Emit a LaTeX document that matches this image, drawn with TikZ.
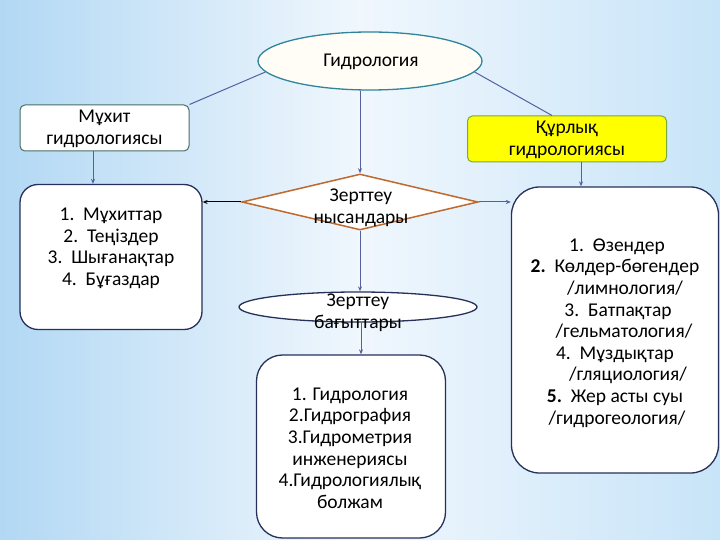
\documentclass[tikz,border=0pt]{standalone}
\usepackage{fontspec}
\setmainfont{Carlito}
\usetikzlibrary{shapes.geometric,arrows.meta}
\definecolor{bgL}{RGB}{178,216,244}
\definecolor{bgM}{RGB}{240,247,253}
\definecolor{bgR}{RGB}{200,228,248}
\definecolor{conn}{RGB}{84,96,160}
\definecolor{tealb}{RGB}{49,133,155}
\definecolor{navy}{RGB}{38,48,90}
\definecolor{muhb}{RGB}{70,110,100}
\definecolor{kurb}{RGB}{120,170,60}
\definecolor{diab}{RGB}{190,105,45}
\definecolor{yel}{RGB}{255,255,0}
\tikzset{
  txt/.style={font=\fontsize{19.5}{21.6}\selectfont, align=center, inner sep=0pt},
  smallbox/.style={draw, rounded corners=5pt, line width=1pt, fill=white},
  bigbox/.style={draw=navy, line width=1.3pt, fill=white},
  conline/.style={draw=conn, line width=1pt},
  arr/.style={conline, -{Stealth[length=5pt,width=4pt]}},
}
\begin{document}
\begin{tikzpicture}[x=1pt,y=-1pt]
\useasboundingbox (0,0) rectangle (720,540);
\shade[left color=bgL, right color=bgR, middle color=bgM] (0,0) rectangle (720,540);

% nodes
\node[ellipse, draw=tealb, line width=1.3pt, fill={rgb,255:red,255;green,253;blue,245},
      minimum width=224pt, minimum height=58pt, inner sep=0pt] (hyd) at (370,61) {};
\node[txt] (hydt) at (371,62) {Гидрология};

\node[smallbox, draw=muhb, minimum width=169pt, minimum height=46pt] (muh) at (104.5,128) {};
\node[txt] (muht) at (104.5,129) {Мұхит\\гидрологиясы};

\node[smallbox, draw=kurb, fill=yel, minimum width=199pt, minimum height=46pt] (kur) at (567,139) {};
\node[txt] (kurt) at (567,140) {Құрлық\\гидрологиясы};

\node[bigbox, rounded corners=18pt, minimum width=182pt, minimum height=145pt] (lb) at (111,257) {};
\node[txt] (lbt) at (111,248.5) {1.\ \ Мұхиттар\\2.\ \ Теңіздер\\3.\ \ Шығанақтар\\4.\ \ Бұғаздар};

\node[diamond, draw=diab, line width=1.5pt, fill=white, minimum width=236pt, minimum height=56pt,
      inner sep=0pt] (zn) at (360,202) {};
\node[txt] (znt) at (361,208) {Зерттеу\\нысандары};

\node[ellipse, draw=navy, line width=1.3pt, fill=white, minimum width=238pt, minimum height=30pt,
      inner sep=0pt] (zb) at (358,307) {};
\node[txt] (zbt) at (358,313) {Зерттеу\\бағыттары};

\node[bigbox, rounded corners=26pt, minimum width=189pt, minimum height=183pt] (bb) at (351,446.5) {};
\node[txt] (bbt) at (350,448) {1. Гидрология\\2.Гидрография\\3.Гидрометрия\\инженериясы\\4.Гидрологиялық\\болжам};

\node[bigbox, rounded corners=28pt, minimum width=207pt, minimum height=286pt] (rb) at (615,330) {};
\node[txt] (rbt) at (615,333) {\hspace*{4pt}1.\ \ Өзендер\\
\textbf{2.}\ \ Көлдер-бөгендер\\
\hspace*{20pt}/лимнология/\\
\hspace*{6pt}3.\ \ Батпақтар\\
\hspace*{18pt}/гельматология/\\
4.\ \ Мұздықтар\\
\hspace*{26pt}/гляциология/\\
\textbf{5.}\ \ Жер асты суы\\
\hspace*{4pt}/гидрогеология/};

% connectors
\draw[conline] (hyd.186) -- (muh.north east);
\draw[conline] (hyd.354) -- ([xshift=-15pt]kur.north);
\draw[arr] (hyd.south -| zn.north) -- (zn.north);
\draw[arr] ([xshift=-11.5pt]muh.south) -- ([xshift=-11.5pt]muh.south |- lb.north);
\draw[conline, draw=black, -{Stealth[length=5pt,width=4pt]}] (zn.west) -- (zn.west -| lb.east);
\draw[arr] (zn.east) -- (zn.east -| rb.west);
\draw[arr] ([xshift=14pt]kur.south) -- ([xshift=14pt]kur.south |- rb.north);
\draw[arr] (zn.south) -- (zn.south |- zb.north);
\draw[arr] ([xshift=3pt]zb.south) -- ([xshift=3pt]zb.south |- bb.north);
\end{tikzpicture}
\end{document}
